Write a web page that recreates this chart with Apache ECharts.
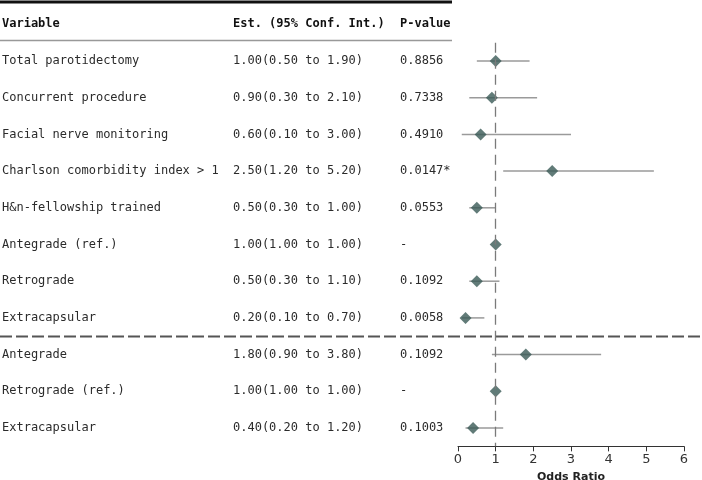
<!DOCTYPE html>
<html>
<head>
<meta charset="utf-8">
<script src="https://cdn.jsdelivr.net/npm/echarts@6/dist/echarts.min.js"></script>
<style>
  html, body { margin: 0; padding: 0; background: #fff; }
  #chart { width: 702px; height: 480px; }
</style>
</head>
<body>
<div id="chart"></div>
<script>
const variables = [
  'Total parotidectomy', 'Concurrent procedure', 'Facial nerve monitoring',
  'Charlson comorbidity index > 1', 'H&n-fellowship trained', 'Antegrade (ref.)',
  'Retrograde', 'Extracapsular', 'Antegrade', 'Retrograde (ref.)', 'Extracapsular'
];
const estimate = [1.0, 0.9, 0.6, 2.5, 0.5, 1.0, 0.5, 0.2, 1.8, 1.0, 0.4];
const lower = [0.5, 0.3, 0.1, 1.2, 0.3, 1.0, 0.3, 0.1, 0.9, 1.0, 0.2];
const upper = [1.9, 2.1, 3.0, 5.2, 1.0, 1.0, 1.1, 0.7, 3.8, 1.0, 1.2];
const pValues = ['0.8856', '0.7338', '0.4910', '0.0147*', '0.0553', '-',
  '0.1092', '0.0058', '0.1092', '-', '0.1003'];
const headers = ['Variable', 'Est. (95% Conf. Int.)', 'P-value'];
const xTicks = [0, 1, 2, 3, 4, 5, 6];

const chart = echarts.init(document.getElementById('chart'));

const mono = '"DejaVu Sans Mono", monospace';
const textColor = '#2b2b2b';
const rowH = 36.7;
const row0 = 61;

function fmt(v) {
  return v.toFixed(2);
}

const tableRows = variables.map((name, i) => [i, name,
  `${fmt(estimate[i])}(${fmt(lower[i])} to ${fmt(upper[i])})`, pValues[i]]);
tableRows.unshift([-1, headers[0], headers[1], headers[2]]);

const colX = [2, 233, 400];

chart.setOption({
  animation: false,
  grid: [
    { left: 458, right: 18, top: row0 - 0.5 * rowH, bottom: 480 - (row0 + 10.5 * rowH),
      outerBoundsMode: 'none', containLabel: false },
    { left: 0, width: 452, top: row0 - 1.5 * rowH, bottom: 480 - (row0 + 10.5 * rowH),
      outerBoundsMode: 'none', containLabel: false }
  ],
  xAxis: [
    {
      gridIndex: 0, type: 'value', min: 0, max: 6, interval: 1,
      name: 'Odds Ratio', nameLocation: 'middle', nameGap: 20,
      nameTextStyle: { fontFamily: 'DejaVu Sans', fontWeight: 'bold', fontSize: 11, color: '#222' },
      axisLine: { onZero: false, lineStyle: { color: '#333', width: 1 } },
      axisTick: { length: 5, lineStyle: { color: '#333' } },
      axisLabel: { fontFamily: 'DejaVu Sans', fontSize: 13, color: '#333', margin: 7,
        formatter: (v) => (xTicks.includes(v) ? String(v) : '') },
      splitLine: { show: false }
    },
    { gridIndex: 1, type: 'value', min: 0, max: 452, show: false }
  ],
  yAxis: [
    { gridIndex: 0, type: 'value', min: -0.5, max: 10.5, inverse: true, show: false },
    { gridIndex: 1, type: 'value', min: -1.5, max: 10.5, inverse: true, show: false }
  ],
  series: [
    {
      type: 'custom',
      xAxisIndex: 0, yAxisIndex: 0,
      data: variables.map((_, i) => [i, lower[i], upper[i]]),
      renderItem: (params, api) => {
        const a = api.coord([api.value(1), api.value(0)]);
        const b = api.coord([api.value(2), api.value(0)]);
        return {
          type: 'line',
          shape: { x1: a[0], y1: a[1], x2: b[0], y2: b[1] },
          style: { stroke: '#9a9a9a', lineWidth: 1.5 }
        };
      },
      z: 2
    },
    {
      type: 'scatter',
      xAxisIndex: 0, yAxisIndex: 0,
      data: estimate.map((v, i) => [v, i]),
      symbol: 'diamond', symbolSize: [12, 12],
      itemStyle: { color: '#3a5a56' },
      z: 4,
      markLine: {
        silent: true, symbol: 'none', label: { show: false },
        lineStyle: { color: '#7a7a7a', type: [10, 6], width: 1.3 },
        data: [{ xAxis: 1 }]
      }
    },
    {
      type: 'custom',
      xAxisIndex: 1, yAxisIndex: 1,
      data: tableRows,
      renderItem: (params, api) => {
        const idx = params.dataIndex;
        const head = idx === 0;
        const y = api.coord([0, api.value(0)])[1];
        const row = tableRows[idx];
        return {
          type: 'group',
          children: [1, 2, 3].map((k, j) => ({
            type: 'text',
            style: {
              x: api.coord([colX[j], 0])[0], y: y,
              text: row[k],
              font: `${head ? 'bold ' : ''}12px ${mono}`,
              fill: head ? '#111' : textColor,
              verticalAlign: 'middle', align: 'left'
            }
          }))
        };
      }
    }
  ],
  graphic: [
    { type: 'line', shape: { x1: 0, y1: 2, x2: 452, y2: 2 }, style: { stroke: '#111', lineWidth: 3 } },
    { type: 'line', shape: { x1: 0, y1: 40.5, x2: 452, y2: 40.5 }, style: { stroke: '#999', lineWidth: 1.5 } },
    { type: 'line', shape: { x1: 0, y1: 336.5, x2: 702, y2: 336.5 },
      style: { stroke: '#555', lineWidth: 1.8, lineDash: [12, 4] } }
  ]
});
</script>
</body>
</html>
